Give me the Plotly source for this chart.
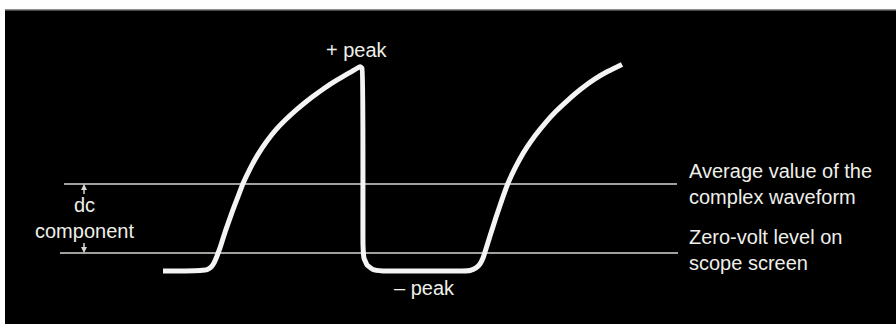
import plotly.graph_objects as go

# Waveform: time (arbitrary units) and voltage (arbitrary units, 0 = zero-volt level)
wave_t = [0.0, 2.2, 3.7, 4.4, 4.8, 5.1, 5.4, 5.7, 6.3, 6.9, 7.5, 8.0, 8.7, 9.5, 10.4,
          11.3, 12.2, 13.3, 14.4, 15.5, 16.7, 17.9, 18.9, 19.7, 19.9, 20.0, 20.1, 20.4,
          21.0, 22.0, 29.9, 30.7, 31.3, 31.7, 32.0, 32.2, 32.7, 33.3, 33.9, 34.5, 35.1,
          35.7, 36.4, 37.2, 38.2, 39.3, 40.5, 41.8, 43.2, 44.5, 45.9]
wave_v = [-0.78, -0.78, -0.76, -0.72, -0.61, -0.43, -0.13, 0.22, 1.03, 1.77, 2.45, 3.02,
          3.66, 4.29, 4.87, 5.36, 5.77, 6.21, 6.61, 6.97, 7.33, 7.65, 7.90, 8.10, 8.04,
          0.35, -0.22, -0.52, -0.72, -0.78, -0.78, -0.76, -0.65, -0.48, -0.22, 0.04, 0.74,
          1.55, 2.32, 3.03, 3.60, 4.10, 4.60, 5.10, 5.64, 6.16, 6.65, 7.13, 7.57, 7.90,
          8.20]

# Reference levels
level_names = ["Average value of the<br>complex waveform", "Zero-volt level on<br>scope screen"]
level_values = [3.0, 0.0]
level_start = [-9.9, -10.3]
level_end = [51.4, 51.5]

peak_labels = ["+ peak", "\u2013 peak"]
dc_label = "dc<br>component"

TXT = "#efefea"
LINE = "#d6d6d2"
FONT = "Liberation Sans, Arial, Helvetica, sans-serif"
FS = 20

fig = go.Figure()

for v, s, e in zip(level_values, level_start, level_end):
    fig.add_trace(go.Scatter(x=[s, e], y=[v, v], mode="lines",
                             line=dict(color=LINE, width=1.6),
                             hoverinfo="skip", showlegend=False))

fig.add_trace(go.Scatter(x=wave_t, y=wave_v, mode="lines",
                         line=dict(color="#f4f4f4", width=5, shape="spline", smoothing=0.3),
                         hoverinfo="skip", showlegend=False))

annotations = []
# level labels on the right
label_v = [3.0, 0.13]
for name, v in zip(level_names, label_v):
    annotations.append(dict(x=52.4, y=v, text=name, showarrow=False, xanchor="left",
                            yanchor="middle", align="left",
                            font=dict(color=TXT, size=FS, family=FONT)))
# peak labels
annotations.append(dict(x=19.4, y=8.83, text=peak_labels[0], showarrow=False,
                        xanchor="center", yanchor="middle",
                        font=dict(color=TXT, size=FS, family=FONT)))
annotations.append(dict(x=26.1, y=-1.52, text=peak_labels[1], showarrow=False,
                        xanchor="center", yanchor="middle",
                        font=dict(color=TXT, size=FS, family=FONT)))
# dc component label
annotations.append(dict(x=-7.9, y=1.52, text=dc_label, showarrow=False,
                        xanchor="center", yanchor="middle", align="center",
                        font=dict(color=TXT, size=FS, family=FONT)))
# dc component arrows
for tip, tail in [(level_values[0], 2.5), (level_values[1], 0.5)]:
    annotations.append(dict(x=-7.9, y=tip, ax=-7.9, ay=tail, axref="x", ayref="y",
                            xref="x", yref="y", text="", showarrow=True,
                            arrowhead=2, arrowsize=0.8, arrowwidth=1.5,
                            arrowcolor=LINE))

fig.update_layout(
    width=896, height=324,
    margin=dict(l=5, r=0, t=10, b=0),
    paper_bgcolor="white", plot_bgcolor="black",
    xaxis=dict(range=[-15.8, 73.3], visible=False, fixedrange=True),
    yaxis=dict(range=[-3.087, 10.565], visible=False, fixedrange=True),
    annotations=annotations,
    shapes=[dict(type="line", xref="paper", yref="paper", x0=0, x1=1, y0=1, y1=1,
                 line=dict(color="#666666", width=1.5))],
    showlegend=False,
)

fig.write_html("out.html", config={"staticPlot": True},
               post_script="document.body.style.margin='0';document.body.style.padding='0';")
